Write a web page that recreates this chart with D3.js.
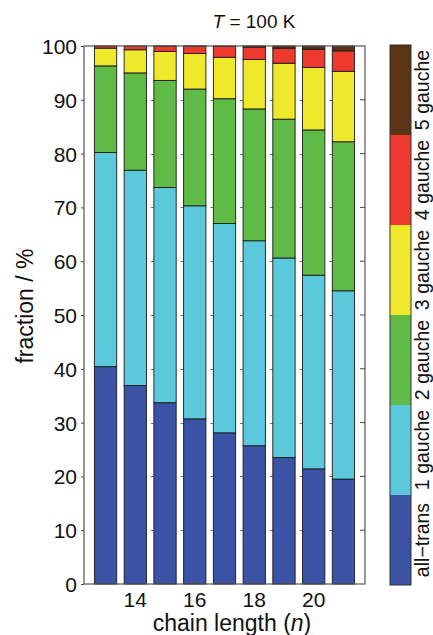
<!DOCTYPE html>
<html>
<head>
<meta charset="utf-8">
<script src="https://cdn.jsdelivr.net/npm/d3@7"></script>
<style>
  body { margin: 0; background: #fff; }
  svg { display: block; font-family: "Liberation Sans", Arial, sans-serif; }
</style>
</head>
<body>
<svg id="chart" width="433" height="635"></svg>
<script>
// chain lengths n and conformer fractions (%)
var chainLengths = [13, 14, 15, 16, 17, 18, 19, 20, 21];
var conformers = ["all\u2212trans", "1 gauche", "2 gauche", "3 gauche", "4 gauche", "5 gauche"];
var allTrans = [40.4, 36.9, 33.7, 30.7, 28.1, 25.7, 23.5, 21.4, 19.5];
var gauche1  = [39.8, 40.0, 40.0, 39.6, 38.9, 38.1, 37.1, 36.0, 35.0];
var gauche2  = [16.1, 18.1, 19.9, 21.7, 23.2, 24.5, 25.8, 27.0, 27.7];
var gauche3  = [3.3, 4.3, 5.4, 6.6, 7.7, 9.2, 10.4, 11.6, 13.1];
var gauche4  = [0.4, 0.7, 0.95, 1.35, 2.0, 2.3, 2.8, 3.4, 3.8];
var gauche5  = [0.0, 0.0, 0.05, 0.05, 0.1, 0.2, 0.4, 0.6, 0.9];
var yTicks = [0, 10, 20, 30, 40, 50, 60, 70, 80, 90, 100];
var xTicks = [14, 16, 18, 20];
var colors = ["#3a53a4", "#5bc8dc", "#5fba46", "#f0e82a", "#ee3a2e", "#5a3415"];

var series = [allTrans, gauche1, gauche2, gauche3, gauche4, gauche5];
var rows = chainLengths.map(function(n, i) {
    var r = { n: n };
    conformers.forEach(function(c, k) { r[c] = series[k][i]; });
    return r;
});

var svg = d3.select("#chart");
var plotL = 84, plotR = 365, plotT = 46, plotB = 584;

var x = d3.scaleBand().domain(chainLengths).range([plotL, plotR])
    .paddingInner(0.25).paddingOuter(0.35);
var y = d3.scaleLinear().domain([0, 100]).range([plotB, plotT]);
var color = d3.scaleOrdinal().domain(conformers).range(colors);

var stacked = d3.stack().keys(conformers)(rows);

// little tick stubs showing in the gaps between bars
var stubs = svg.append("g").attr("stroke", "#777").attr("stroke-width", 1);
chainLengths.slice(2).forEach(function(n) {
    yTicks.slice(1, -1).forEach(function(t) {
        stubs.append("line")
            .attr("x1", x(n) - 3).attr("x2", x(n))
            .attr("y1", Math.round(y(t)) + 0.5).attr("y2", Math.round(y(t)) + 0.5);
    });
});

svg.append("g").selectAll("g")
    .data(stacked)
    .enter().append("g")
    .attr("fill", function(d) { return color(d.key); })
    .selectAll("rect")
    .data(function(d) { return d; })
    .enter().append("rect")
    .attr("x", function(d) { return x(d.data.n); })
    .attr("width", x.bandwidth())
    .attr("y", function(d) { return y(d[1]); })
    .attr("height", function(d) { return Math.max(0, y(d[0]) - y(d[1])); })
    .attr("stroke", "#1a1a1a")
    .attr("stroke-width", 0.9);

// axes box
svg.append("rect")
    .attr("x", plotL).attr("y", plotT)
    .attr("width", plotR - plotL).attr("height", plotB - plotT)
    .attr("fill", "none").attr("stroke", "#555").attr("stroke-width", 1.2);

var yAxis = svg.append("g")
    .attr("transform", "translate(" + plotL + ",0)")
    .call(d3.axisLeft(y).tickValues(yTicks).tickSize(3).tickPadding(4));
yAxis.select(".domain").remove();
yAxis.selectAll("line").attr("stroke", "#444");
yAxis.selectAll("text").attr("font-size", 21).attr("fill", "#111").attr("dy", "0.36em")
    .attr("font-family", "Liberation Sans, Arial, sans-serif");

var rTicks = svg.append("g").attr("stroke", "#444");
yTicks.slice(1, -1).forEach(function(t) {
    rTicks.append("line")
        .attr("x1", plotR - 5).attr("x2", plotR)
        .attr("y1", y(t)).attr("y2", y(t));
});

var xAxis = svg.append("g")
    .attr("transform", "translate(0," + plotB + ")")
    .call(d3.axisBottom(x).tickValues(xTicks).tickSize(0).tickPadding(8));
xAxis.select(".domain").remove();
xAxis.selectAll("text").attr("font-size", 21).attr("fill", "#111")
    .attr("font-family", "Liberation Sans, Arial, sans-serif");

// axis titles
var xt = svg.append("text")
    .attr("x", 232).attr("y", 631)
    .attr("text-anchor", "middle").attr("font-size", 23).attr("fill", "#111")
    .text("chain length (");
xt.append("tspan").attr("font-style", "italic").text("n");
xt.append("tspan").text(")");

svg.append("text")
    .attr("transform", "translate(33,306) rotate(-90)")
    .attr("text-anchor", "middle").attr("font-size", 23).attr("fill", "#111")
    .text("fraction / %");

var title = svg.append("text")
    .attr("x", 254).attr("y", 28)
    .attr("text-anchor", "middle").attr("font-size", 19).attr("fill", "#111");
title.append("tspan").attr("font-style", "italic").text("T");
title.append("tspan").text(" = 100 K");

// colour bar legend
var cb = d3.scaleBand().domain(conformers).range([585, 45]);
var cbg = svg.append("g");
cbg.selectAll("rect")
    .data(conformers)
    .enter().append("rect")
    .attr("x", 390).attr("width", 21)
    .attr("y", function(d) { return cb(d); })
    .attr("height", cb.bandwidth())
    .attr("fill", function(d) { return color(d); });
cbg.append("rect")
    .attr("x", 390).attr("y", 45).attr("width", 21).attr("height", 540)
    .attr("fill", "none").attr("stroke", "#333").attr("stroke-width", 1);
cbg.selectAll("text.lbl")
    .data(conformers)
    .enter().append("text")
    .attr("class", "lbl")
    .attr("transform", function(d) {
        return "translate(428.5," + (cb(d) + cb.bandwidth() / 2) + ") rotate(-90)";
    })
    .attr("text-anchor", "middle").attr("font-size", 19.5).attr("fill", "#111")
    .text(function(d) { return d; });
</script>
</body>
</html>
